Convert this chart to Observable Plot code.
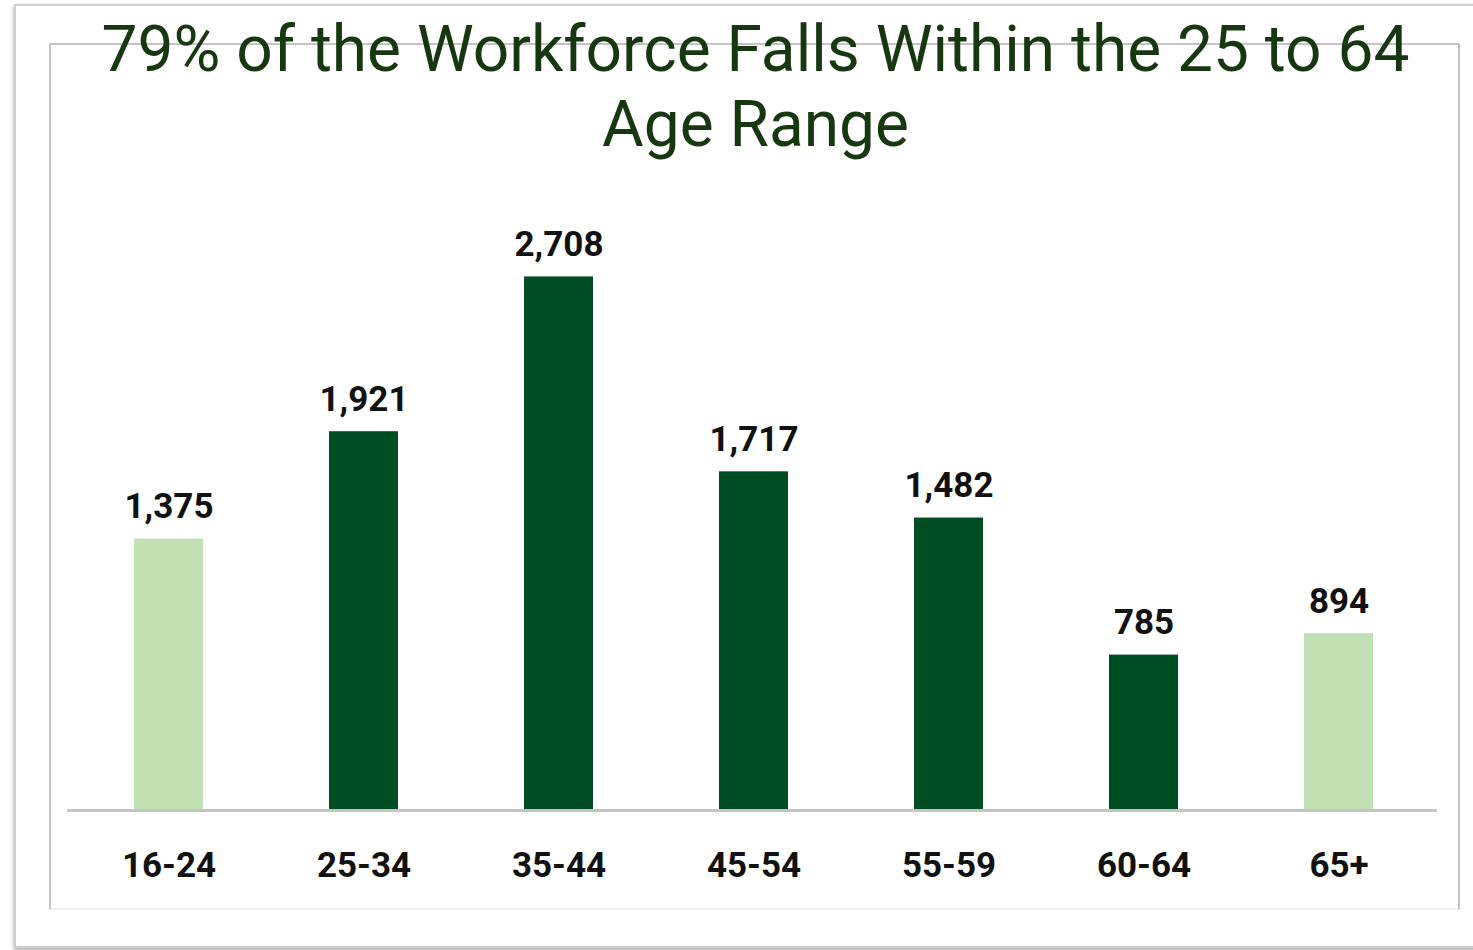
<!DOCTYPE html>
<html>
<head>
<meta charset="utf-8">
<script src="https://cdn.jsdelivr.net/npm/d3@7"></script>
<script src="https://cdn.jsdelivr.net/npm/@observablehq/plot@0.6"></script>
<style>
  html, body { margin: 0; padding: 0; background: #fff; overflow: hidden; }
  #wrap { position: relative; width: 1473px; height: 950px; overflow: hidden; background: #fff; }
  #outer { position: absolute; left: 14px; top: 4px; width: 1500px; height: 940px;
           border: 2px solid #cfcfcf; box-shadow: 0 2px 4px rgba(0,0,0,0.35); background: #fff; }
  #inner { position: absolute; left: 49px; top: 43px; width: 1407px; height: 863px;
           border-left: 2px solid #c4c4c4; border-top: 2px solid #c4c4c4; border-right: 2px solid #c4c4c4;
           border-bottom: 2px solid #efefef; }
  #title { position: absolute; left: 0; top: 12px; width: 1511px; text-align: center;
           font-family: Roboto, sans-serif; font-size: 64px; line-height: 75px; color: #16370f; margin: 0; font-weight: 400; }
  #chart { position: absolute; left: 0; top: 165px; }
</style>
</head>
<body>
<div id="wrap">
  <div id="outer"></div>
  <div id="inner"></div>
  <h1 id="title">79% of the Workforce Falls Within the 25 to 64<br>Age Range</h1>
  <div id="chart"></div>
</div>
<script>
const ageGroups = ["16-24", "25-34", "35-44", "45-54", "55-59", "60-64", "65+"];
const workers = [1375, 1921, 2708, 1717, 1482, 785, 894];
const rangeGroup = ["Outside 25-64", "25-64", "25-64", "25-64", "25-64", "25-64", "Outside 25-64"];
const groupNames = ["25-64", "Outside 25-64"];
const groupColors = ["#014d23", "#c1e1b4"];

const data = ageGroups.map((a, i) => ({age: a, value: workers[i], group: rangeGroup[i]}));

const chart = Plot.plot({
  width: 1473,
  height: 785,
  marginLeft: 67,
  marginRight: 36,
  marginTop: 54,
  marginBottom: 141,
  style: {background: "transparent", fontFamily: "Roboto, sans-serif", overflow: "visible"},
  x: {domain: ageGroups, range: [71, 1436], paddingInner: 0.646, paddingOuter: 0.323, label: null},
  y: {domain: [0, 3000], axis: null},
  color: {domain: groupNames, range: groupColors},
  marks: [
    Plot.barY(data, {x: "age", y: "value", fill: "group"}),
    Plot.ruleY([0], {stroke: "#c4c4c4", strokeWidth: 3, dy: 1}),
    Plot.text(data, {x: "age", y: "value", text: d => d3.format(",")(d.value), lineAnchor: "bottom", dy: -21,
      fontSize: 35, fontWeight: "bold", fill: "#111"}),
    Plot.axisX({tickSize: 0, tickPadding: 43, fontSize: 35, fontWeight: "bold", color: "#111", label: null})
  ]
});
document.getElementById("chart").appendChild(chart);
</script>
</body>
</html>
